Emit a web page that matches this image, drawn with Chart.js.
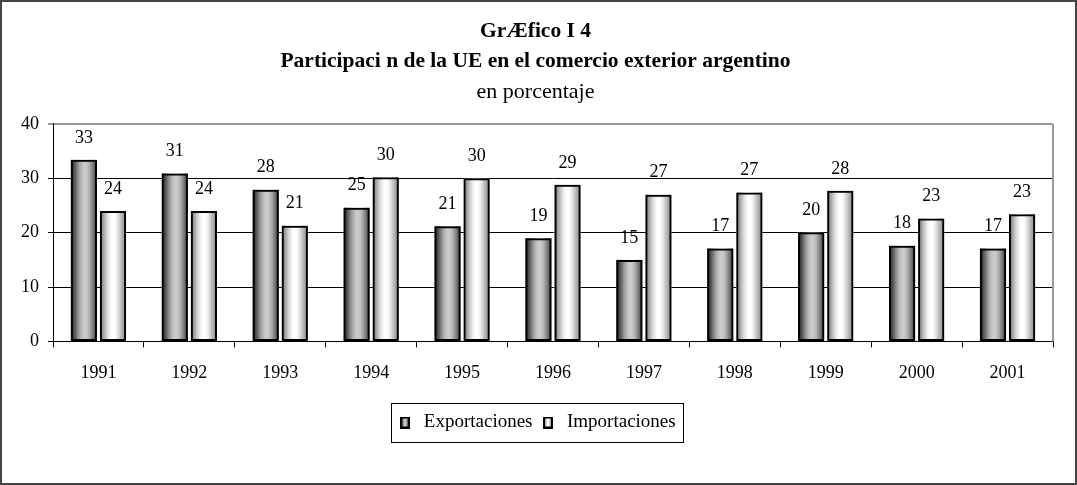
<!DOCTYPE html>
<html>
<head>
<meta charset="utf-8">
<script src="https://cdn.jsdelivr.net/npm/chart.js@4"></script>
<style>
  body { margin: 0; background: #fff; }
  #wrap { width: 1077px; height: 485px; }
</style>
</head>
<body>
<div id="wrap"><canvas id="grafico"></canvas></div>
<script>
// datos
const anios = ['1991', '1992', '1993', '1994', '1995', '1996', '1997', '1998', '1999', '2000', '2001'];
const exportaciones = [33.4, 30.9, 27.9, 24.6, 21.2, 19.0, 15.0, 17.1, 20.1, 17.6, 17.1];
const importaciones = [24.0, 24.0, 21.3, 30.2, 30.0, 28.8, 27.0, 27.4, 27.7, 22.6, 23.4];
const titulo = ['GrÆfico I 4', 'Participaci n de la UE en el comercio exterior argentino'];
const subtitulo = 'en porcentaje';
const yMax = 40;
const yPaso = 10;

const fuente = "'Liberation Serif', 'DejaVu Serif', serif";

// degradados tipo cilindro (estilo excel)
const grisOscuro = ['#3a3a3a', '#5e5e5e', '#8a8a8a', '#acacac', '#c4c4c4', '#cccccc', '#c2c2c2', '#a6a6a6', '#808080', '#5a5a5a'];
const grisClaro = ['#8c8c8c', '#b0b0b0', '#d4d4d4', '#eeeeee', '#ffffff', '#ffffff', '#efefef', '#d2d2d2', '#b4b4b4', '#9a9a9a'];

function degradado(ctx, x0, x1, colores) {
    let g = ctx.createLinearGradient(x0, 0, x1, 0);
    for (let i = 0; i < colores.length; i++) {
        g.addColorStop(i / (colores.length - 1), colores[i]);
    }
    return g;
}

function marcador(colores) {
    let c = document.createElement('canvas');
    c.width = 10;
    c.height = 12;
    let cx = c.getContext('2d');
    cx.fillStyle = '#000';
    cx.fillRect(0, 0, 10, 12);
    cx.fillStyle = degradado(cx, 2, 8, colores);
    cx.fillRect(2, 2, 6, 8);
    return c;
}
const marcadores = [marcador(grisOscuro), marcador(grisClaro)];
const rellenos = [grisOscuro, grisClaro];

const pluginBarras = {
    id: 'barras',
    beforeDraw(chart) {
        const ctx = chart.ctx;
        ctx.save();
        ctx.strokeStyle = '#444';
        ctx.lineWidth = 2;
        ctx.strokeRect(1, 1, chart.width - 2, chart.height - 2);
        ctx.restore();
    },
    beforeDatasetsDraw(chart) {
        const ctx = chart.ctx;
        const area = chart.chartArea;
        ctx.save();
        // borde gris del area de trazado (derecha)
        ctx.strokeStyle = '#999';
        ctx.lineWidth = 2;
        ctx.beginPath();
        ctx.moveTo(area.right, area.top);
        ctx.lineTo(area.right, area.bottom);
        ctx.stroke();
        chart.data.datasets.forEach(function(ds, i) {
            const meta = chart.getDatasetMeta(i);
            meta.data.forEach(function(bar) {
                const p = bar.getProps(['x', 'y', 'base', 'width'], true);
                const izq = p.x - p.width / 2;
                ctx.fillStyle = degradado(ctx, izq + 2, izq + p.width - 2, rellenos[i]);
                ctx.fillRect(izq, p.y, p.width, p.base - p.y);
            });
        });
        ctx.restore();
    },
    afterDatasetsDraw(chart) {
        const ctx = chart.ctx;
        ctx.save();
        ctx.fillStyle = '#000';
        ctx.font = '18px ' + fuente;
        ctx.textAlign = 'center';
        ctx.textBaseline = 'middle';
        chart.data.datasets.forEach(function(ds, i) {
            const meta = chart.getDatasetMeta(i);
            meta.data.forEach(function(bar, j) {
                const p = bar.getProps(['x', 'y'], true);
                ctx.fillText(Math.round(ds.data[j]), p.x, p.y - 22);
            });
        });
        ctx.restore();
    },
    afterDraw(chart) {
        // recuadro de la leyenda
        const hb = chart.legend.legendHitBoxes;
        if (!hb || !hb.length) return;
        const ult = hb[hb.length - 1];
        const ctx = chart.ctx;
        ctx.save();
        ctx.strokeStyle = '#000';
        ctx.lineWidth = 1;
        ctx.strokeRect(Math.round(hb[0].left - 4) + 0.5, Math.round(hb[0].top - 10) + 0.5,
            Math.round(ult.left + ult.width - hb[0].left + 12), Math.round(hb[0].height + 20));
        ctx.restore();
    }
};

const ctx = document.getElementById('grafico').getContext('2d');
const grafico = new Chart(ctx, {
    type: 'bar',
    data: {
        labels: anios,
        datasets: [{
            label: 'Exportaciones',
            data: exportaciones,
            backgroundColor: 'rgba(0,0,0,0)',
            borderColor: '#000',
            borderWidth: 2,
            borderSkipped: false,
            barPercentage: 0.9,
            categoryPercentage: 0.64
        }, {
            label: 'Importaciones',
            data: importaciones,
            backgroundColor: 'rgba(0,0,0,0)',
            borderColor: '#000',
            borderWidth: 2,
            borderSkipped: false,
            barPercentage: 0.9,
            categoryPercentage: 0.64
        }]
    },
    options: {
        responsive: true,
        maintainAspectRatio: false,
        animation: false,
        layout: {
            padding: { left: 18, right: 24, top: 0, bottom: 43 }
        },
        plugins: {
            tooltip: { enabled: false },
            title: {
                display: true,
                text: titulo,
                color: '#000',
                font: { family: fuente, size: 21.5, weight: 'bold', lineHeight: 1.4 },
                padding: { top: 16, bottom: 0 }
            },
            subtitle: {
                display: true,
                text: subtitulo,
                color: '#000',
                font: { family: fuente, size: 22, lineHeight: 1.4 },
                padding: { top: 1, bottom: 16 }
            },
            legend: {
                position: 'bottom',
                labels: {
                    usePointStyle: true,
                    color: '#000',
                    font: { family: fuente, size: 19 },
                    padding: 6,
                    generateLabels: function(chart) {
                        return chart.data.datasets.map(function(ds, i) {
                            return {
                                text: ds.label,
                                pointStyle: marcadores[i],
                                fillStyle: '#888',
                                strokeStyle: '#000',
                                lineWidth: 0,
                                hidden: false,
                                datasetIndex: i
                            };
                        });
                    }
                }
            }
        },
        scales: {
            x: {
                afterFit: function(scale) { scale.height += 8; },
                grid: {
                    offset: true,
                    drawOnChartArea: false,
                    color: '#000',
                    tickLength: 6
                },
                border: { color: '#000', width: 1 },
                ticks: {
                    color: '#000',
                    font: { family: fuente, size: 18 },
                    padding: 15,
                    maxRotation: 0
                }
            },
            y: {
                min: 0,
                max: yMax,
                afterFit: function(scale) { scale.width = 35; },
                grid: {
                    color: function(c) { return c.tick && c.tick.value === yMax ? '#999' : '#000'; },
                    lineWidth: function(c) { return c.tick && c.tick.value === yMax ? 2 : 1; },
                    tickLength: 5
                },
                border: { color: '#000', width: 1 },
                ticks: {
                    stepSize: yPaso,
                    color: '#000',
                    font: { family: fuente, size: 18 },
                    padding: 9
                }
            }
        }
    },
    plugins: [pluginBarras]
});
</script>
</body>
</html>
